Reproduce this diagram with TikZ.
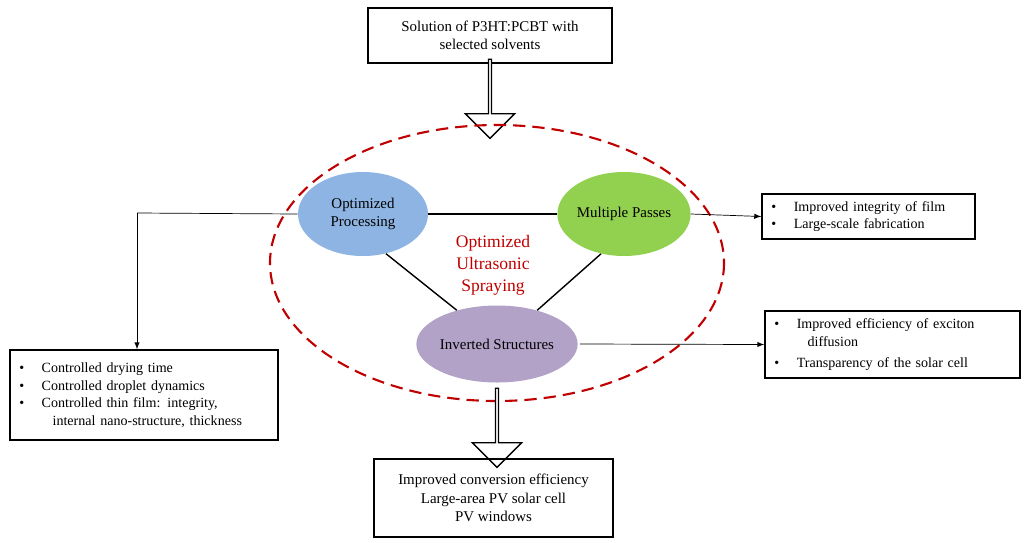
\documentclass[tikz,border=0pt]{standalone}
\usepackage{fontspec}
\setmainfont{Liberation Serif}
\usetikzlibrary{shapes.geometric,shapes.arrows}
\definecolor{eblue}{HTML}{8DB4E2}
\definecolor{egreen}{HTML}{92D050}
\definecolor{epurple}{HTML}{B3A2C7}
\definecolor{dred}{HTML}{C00000}
\begin{document}
\begin{tikzpicture}[x=0.02cm,y=-0.02cm,
  box/.style={draw,thick,align=center,font=\fontsize{8.5}{10.5}\selectfont,inner sep=0pt},
  lbox/.style={draw,thick,align=left,font=\fontsize{8}{10}\selectfont,inner sep=0pt},
  ell/.style={ellipse,draw=none,align=center,font=\fontsize{8.5}{10}\selectfont,inner sep=0pt},
  harrow/.style={single arrow,draw,thick,fill=white,rotate=-90,minimum width=28,single arrow head extend=6,minimum height=45,inner sep=0pt,single arrow tip angle=90},
  conn/.style={thick},
  arr/.style={-latex,thin}]
\useasboundingbox (0,0) rectangle (1024,542);
\node[box,minimum width=244*0.02cm,minimum height=55*0.02cm] (top) at (490,35.5) {Solution of P3HT:PCBT with\\selected solvents};
\node[harrow] (a1) at (490,98) {};
\draw[dred,very thick,dash pattern=on 7pt off 4pt] (497,263) ellipse [x radius=227,y radius=138];
\node[ell,fill=eblue,minimum width=130*0.02cm,minimum height=84*0.02cm] (op) at (363,214) {Optimized\\Processing};
\node[ell,fill=egreen,minimum width=132*0.02cm,minimum height=84*0.02cm] (mp) at (624,214) {Multiple Passes};
\node[ell,fill=epurple,minimum width=160*0.02cm,minimum height=77*0.02cm] (is) at (497,344) {Inverted Structures};
\draw[conn] (op.east) -- (mp.west);
\draw[conn] (op.-60) -- (is.140);
\draw[conn] (mp.-120) -- (is.40);
\node[text=dred,align=center,font=\fontsize{10}{12.5}\selectfont] (ous) at (493,265) {Optimized\\Ultrasonic\\Spraying};
\node[lbox,minimum width=268*0.02cm,minimum height=90*0.02cm,text width=260*0.02cm] (lb) at (144,395)
 {\hspace{3pt}\textbullet\hspace{10pt}Controlled drying time\\
  \hspace{3pt}\textbullet\hspace{10pt}Controlled droplet dynamics\\
  \hspace{3pt}\textbullet\hspace{10pt}Controlled thin film: integrity,\\
  \hspace{22pt}internal nano-structure, thickness};
\node[lbox,minimum width=213*0.02cm,minimum height=45*0.02cm,text width=205*0.02cm] (rb1) at (868.5,216.5)
 {\hspace{3pt}\textbullet\hspace{10pt}Improved integrity of film\\
  \hspace{3pt}\textbullet\hspace{10pt}Large-scale fabrication};
\node[lbox,minimum width=255*0.02cm,minimum height=67*0.02cm,text width=247*0.02cm] (rb2) at (892.5,344.5)
 {\hspace{3pt}\textbullet\hspace{10pt}Improved efficiency of exciton\\
  \hspace{22pt}diffusion\\[2pt]
  \hspace{3pt}\textbullet\hspace{10pt}Transparency of the solar cell};
\coordinate (lc) at (137,213);
\draw[thin] (op.west) -- (lc);
\draw[arr] (lc) -- (lb.north -| lc);
\draw[arr] (mp.east) -- (rb1.west);
\draw[arr] (580,344) -- (rb2.west);
\node[harrow] (a2) at (497,427) {};
\node[box,minimum width=239*0.02cm,minimum height=78*0.02cm] (bot) at (493.5,498)
 {Improved conversion efficiency\\Large-area PV solar cell\\PV windows};
\end{tikzpicture}
\end{document}
